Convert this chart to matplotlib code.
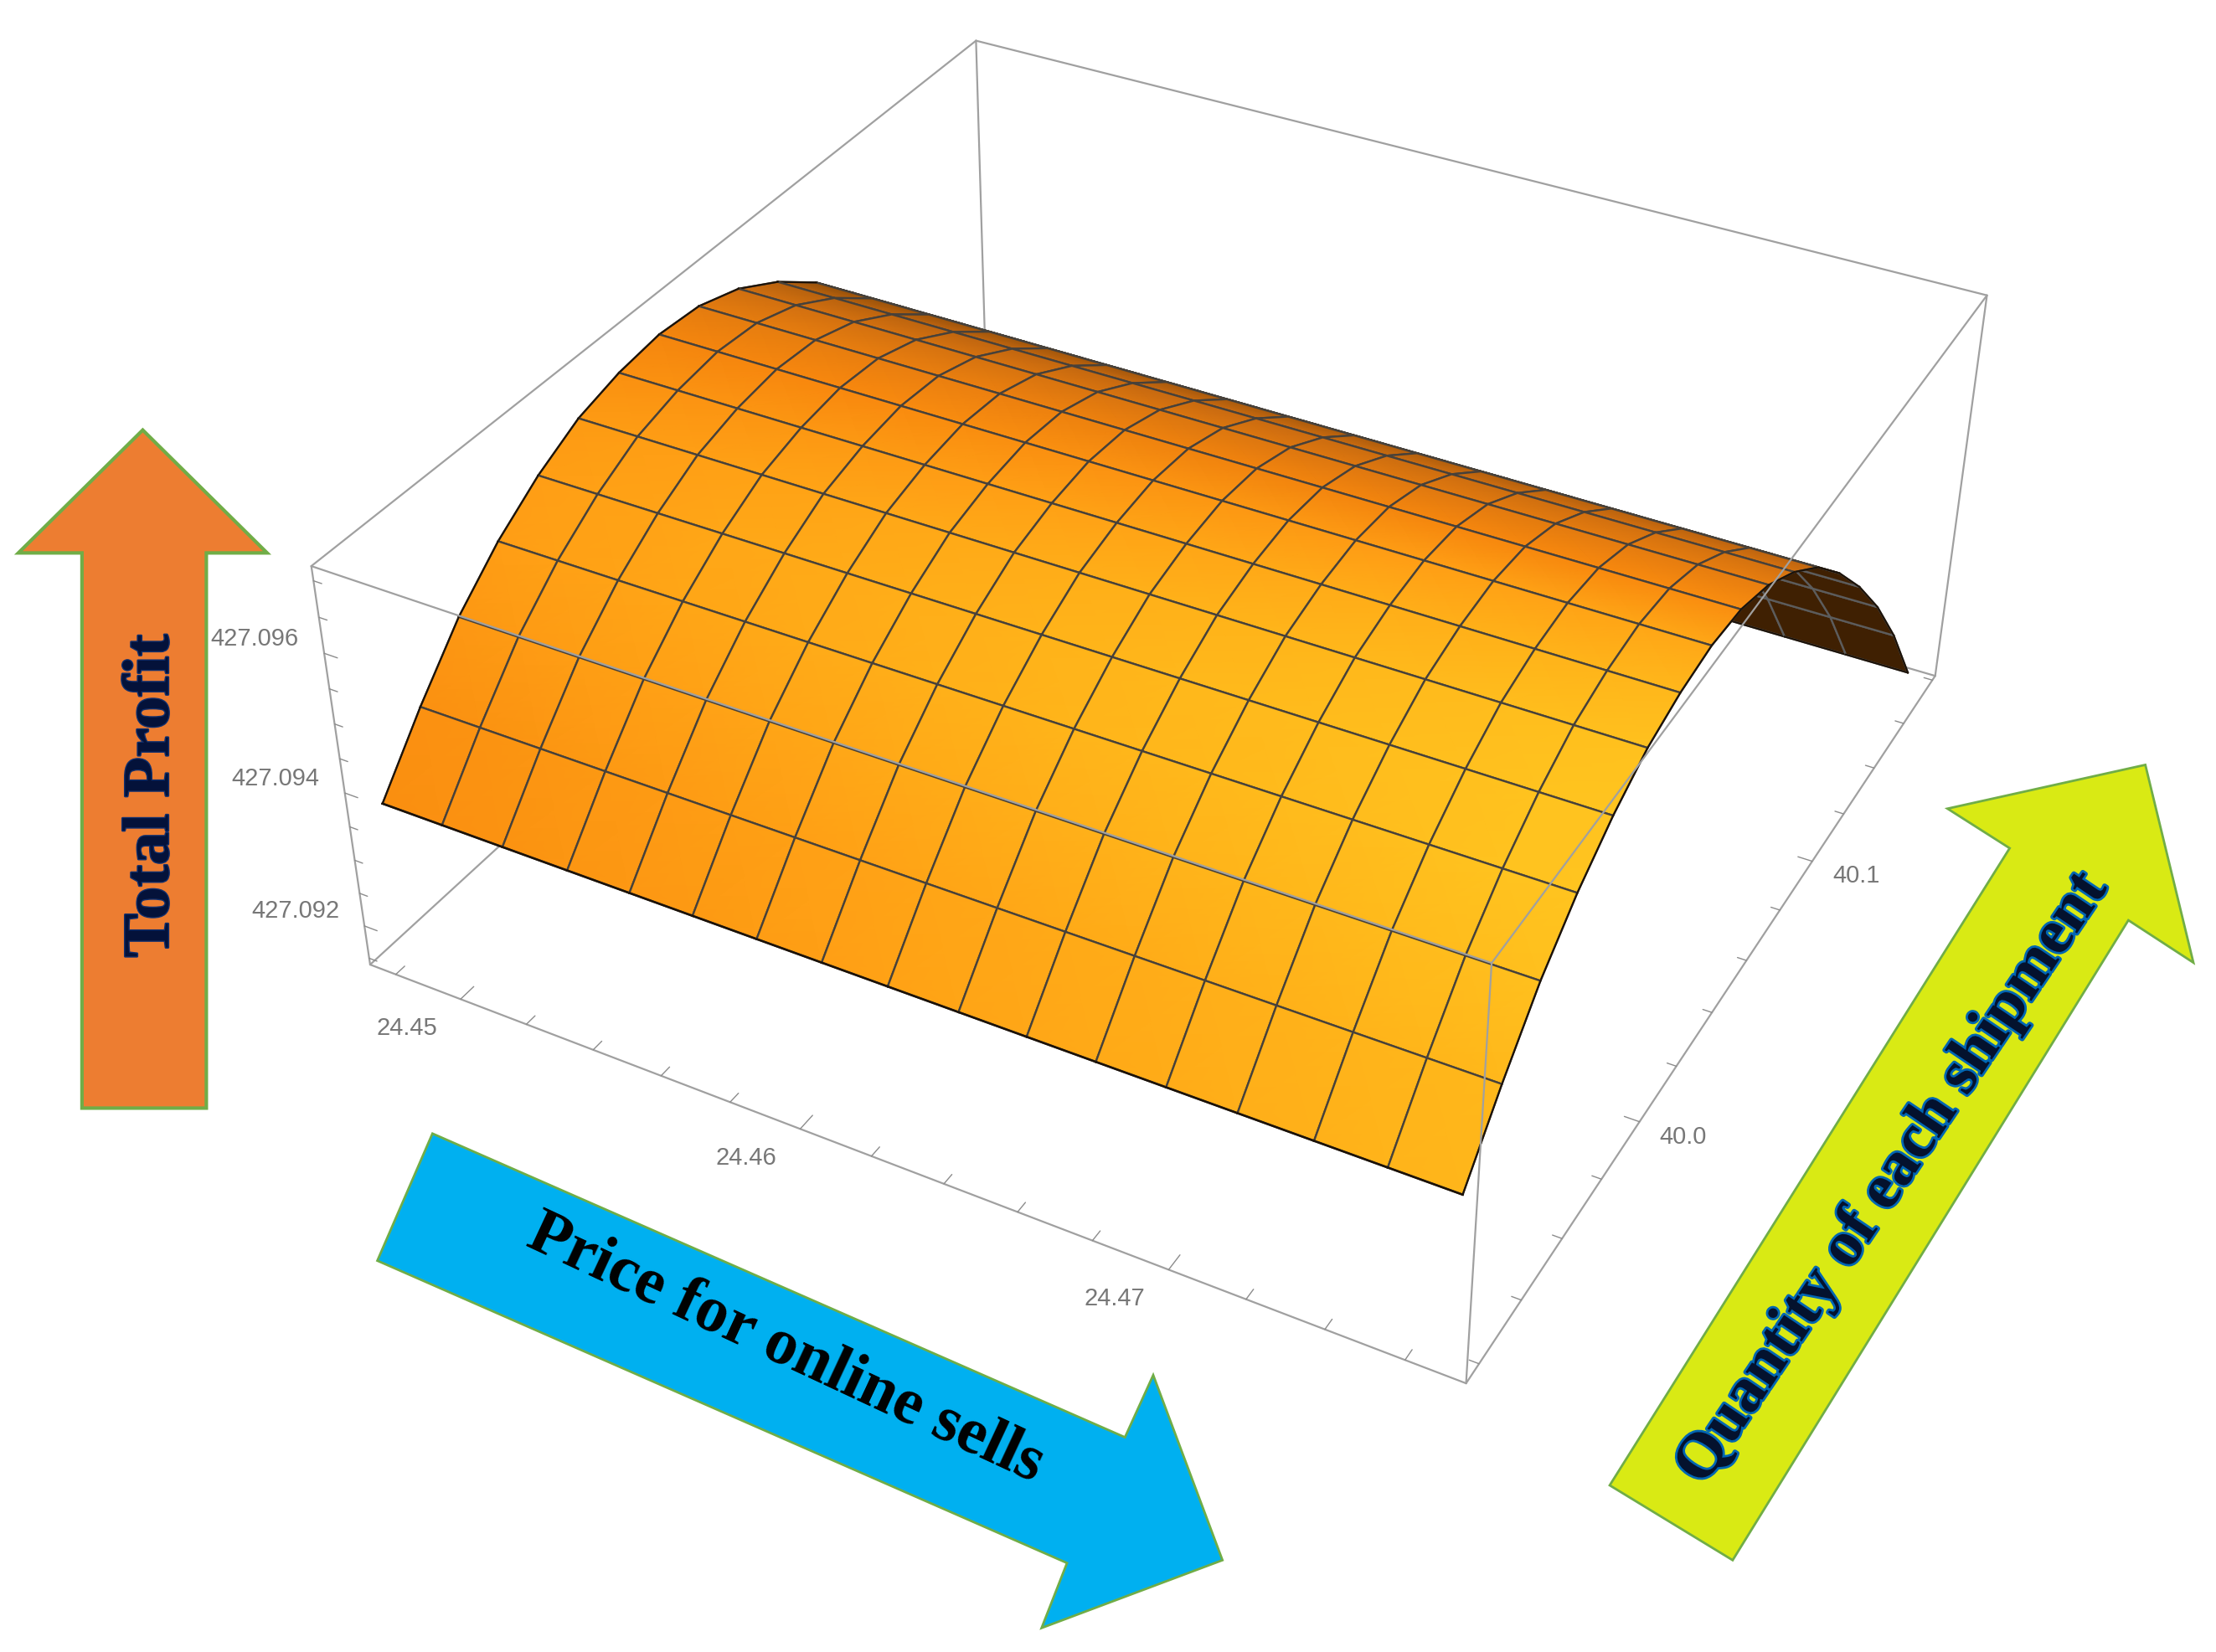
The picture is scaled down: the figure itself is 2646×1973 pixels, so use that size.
import numpy as np
import matplotlib
matplotlib.use("Agg")
import matplotlib.pyplot as plt
import matplotlib.patheffects as pe
from matplotlib.colors import LinearSegmentedColormap, Normalize
from matplotlib.patches import Polygon

# --- DATA ---
price_values = [24.4478, 24.4496, 24.4514, 24.4533, 24.4551, 24.4569, 24.4587, 24.4605, 24.4623,
                24.4642, 24.4660, 24.4678, 24.4696, 24.4714, 24.4733, 24.4751, 24.4769]
quantity_values = [39.9194, 39.9355, 39.9516, 39.9676, 39.9837, 39.9998, 40.0159, 40.0320, 40.0480,
                   40.0641, 40.0802, 40.0963, 40.1123, 40.1284, 40.1445, 40.1606, 40.1766]
profit_by_quantity = [427.09375, 427.09459, 427.09534, 427.09590, 427.09633, 427.09665, 427.09682, 427.09690,
                      427.09685, 427.09665, 427.09630, 427.09584, 427.09523, 427.09450, 427.09366, 427.09268,
                      427.09154]

price_ticks = [24.45, 24.46, 24.47]
quantity_ticks = [40.0, 40.1]
profit_ticks = [427.092, 427.094, 427.096]
price_range = (24.4472, 24.4775)
quantity_range = (39.914, 40.182)
profit_range = (427.0914, 427.0972)

# --- CAMERA: box corners in the 1568x1170 picture ---
unit_corners = [(0, 0, 0), (1, 0, 0), (0, 0, 1), (1, 0, 1), (1, 1, 1), (0, 1, 1), (1, 1, 0), (0, 1, 0)]
screen_corners = [(262, 682), (1038, 980), (220, 402), (1055, 683), (1405, 210), (692, 28), (1370, 478), (697, 285)]


def fit_camera():
    rows = []
    for (a, b, c), (u, v) in zip(unit_corners, screen_corners):
        rows.append([a, b, c, 1, 0, 0, 0, 0, -u * a, -u * b, -u * c, -u])
        rows.append([0, 0, 0, 0, a, b, c, 1, -v * a, -v * b, -v * c, -v])
    return np.linalg.svd(np.array(rows, float))[2][-1].reshape(3, 4)


CAM = fit_camera()


def to_unit(x, y, z):
    return ((np.asarray(x, float) - price_range[0]) / (price_range[1] - price_range[0]),
            (np.asarray(y, float) - quantity_range[0]) / (quantity_range[1] - quantity_range[0]),
            (np.asarray(z, float) - profit_range[0]) / (profit_range[1] - profit_range[0]))


def project(x, y, z):
    a, b, c = to_unit(x, y, z)
    w = CAM[2, 0] * a + CAM[2, 1] * b + CAM[2, 2] * c + CAM[2, 3]
    return ((CAM[0, 0] * a + CAM[0, 1] * b + CAM[0, 2] * c + CAM[0, 3]) / w,
            (CAM[1, 0] * a + CAM[1, 1] * b + CAM[1, 2] * c + CAM[1, 3]) / w)


fig = plt.figure(figsize=(26.46, 19.74), dpi=100)
ax = fig.add_axes([0, 0, 1, 1])
ax.set_xlim(0, 1568)
ax.set_ylim(1170, 0)
ax.axis("off")

BOX = "#a0a0a0"
xa, xb = price_range
ya, yb = quantity_range
za, zb = profit_range


def edge(p, q, zorder, color=BOX, lw=1.6):
    sx, sy = project([p[0], q[0]], [p[1], q[1]], [p[2], q[2]])
    ax.plot(sx, sy, color=color, lw=lw, zorder=zorder, solid_capstyle="round")


# back of the box, behind the surface
for p, q in [((xa, yb, za), (xb, yb, za)), ((xa, ya, za), (xa, yb, za)), ((xa, yb, za), (xa, yb, zb)),
             ((xa, yb, zb), (xb, yb, zb)), ((xb, yb, za), (xb, yb, zb)), ((xa, yb, zb), (xa, ya, zb))]:
    edge(p, q, 1)

# --- SURFACE ---
X, Y = np.meshgrid(price_values, quantity_values)
Z = np.tile(np.array(profit_by_quantity)[:, None], (1, len(price_values)))
SX, SY = project(X, Y, Z)

# light falls from the front and above; the far slope turns dark
ua, ub, uc = to_unit(X, Y, Z)
slope = np.gradient(uc, ub[:, 0], axis=0) * 0.42
angle = np.arctan(slope)
light = np.cos(angle - np.arctan(0.5))
shade = (light - 0.4) / 0.6 + 0.22 * (ua - 0.5)
shade_map = LinearSegmentedColormap.from_list(
    "shade", [(0.0, "#8a4a08"), (0.3, "#c86a10"), (0.7, "#f8880e"), (0.82, "#ffa015"), (0.92, "#ffb51a"),
              (1.0, "#ffc41f")])
shade_norm = Normalize(0, 1.1)

MESH = "#47413a"
RIM = "#1c1208"
last_i = len(price_values) - 2
last_j = len(quantity_values) - 2
zo = 2.0
for j in range(last_j, -1, -1):
    for i in range(last_i + 1):
        qx = np.array([SX[j, i], SX[j, i + 1], SX[j + 1, i + 1], SX[j + 1, i]])
        qy = np.array([SY[j, i], SY[j, i + 1], SY[j + 1, i + 1], SY[j + 1, i]])
        area = 0.5 * np.sum(qx * np.roll(qy, -1) - np.roll(qx, -1) * qy)
        zo += 0.001
        back = area > 0
        if back:
            ax.add_patch(Polygon(np.c_[qx, qy], closed=True, fc="#3f2002", ec="#3f2002", lw=0.5, zorder=zo))
        else:
            ax.pcolormesh(SX[j:j + 2, i:i + 2], SY[j:j + 2, i:i + 2], shade[j:j + 2, i:i + 2], shading="gouraud",
                          cmap=shade_map, norm=shade_norm, zorder=zo)
        zo += 0.001
        ax.plot(np.r_[qx, qx[0]], np.r_[qy, qy[0]], color="#5c5c5c" if back else MESH, lw=1.7, zorder=zo,
                solid_joinstyle="round")
        # rim of the surface, painted with its cell so that nearer cells hide it
        zo += 0.001
        if j == 0:
            ax.plot(qx[:2], qy[:2], color=RIM, lw=1.9, zorder=zo)
        if j == last_j:
            ax.plot(qx[2:], qy[2:], color=RIM, lw=1.5, zorder=zo)
        if i == 0:
            ax.plot(qx[[0, 3]], qy[[0, 3]], color=RIM, lw=1.5, zorder=zo)
        if i == last_i:
            ax.plot(qx[1:3], qy[1:3], color=RIM, lw=1.5, zorder=zo)

# front of the box, drawn over the surface
TOP = 50
for p, q in [((xa, ya, za), (xb, ya, za)), ((xb, ya, za), (xb, yb, za)), ((xa, ya, za), (xa, ya, zb)),
             ((xb, ya, za), (xb, ya, zb)), ((xa, ya, zb), (xb, ya, zb)), ((xb, ya, zb), (xb, yb, zb))]:
    edge(p, q, TOP)

# --- TICKS ---
TICK = "#8c8c8c"
dx = xb - xa
dy = yb - ya
for v in np.arange(24.448, 24.4775, 0.002):
    long = min(abs(v - t) for t in price_ticks) < 1e-6
    edge((v, ya, za), (v, ya + dy * (0.018 if long else 0.012), za), TOP, TICK, 1.0)
for v in np.arange(39.92, 40.182, 0.02):
    long = min(abs(v - t) for t in quantity_ticks) < 1e-6
    edge((xb, v, za), (xb - dx * (0.013 if long else 0.008), v, za), TOP, TICK, 1.0)
for v in np.arange(427.0915, 427.0972, 0.0005):
    long = min(abs(v - t) for t in profit_ticks) < 1e-6
    edge((xa, ya, v), (xa + dx * (0.013 if long else 0.008), ya, v), TOP, TICK, 1.0)

LABEL = dict(family="Liberation Sans", fontsize=21, color="#777777", ha="center", va="center", zorder=TOP)
for v in price_ticks:
    sx, sy = project(v, ya, za)
    ax.text(sx - 38, sy + 20, f"{v:.2f}", **LABEL)
for v in quantity_ticks:
    sx, sy = project(xb, v, za)
    ax.text(sx + 31, sy + 10, f"{v:.1f}", **LABEL)
for v in profit_ticks:
    sx, sy = project(xa, ya, v)
    ax.text(sx - 49, sy - 11, f"{v:.3f}", **LABEL)

# --- ANNOTATION ARROWS ---
GREEN = "#70ad47"
ax.add_patch(Polygon([(101, 305), (13, 392), (58, 392), (58, 785), (146, 785), (146, 392), (189, 392)],
                     closed=True, fc="#ed7d31", ec=GREEN, lw=3.0, zorder=60, joinstyle="miter"))
ax.add_patch(Polygon([(306, 803), (267, 893), (755, 1107), (737, 1153), (865, 1105), (816, 974), (796, 1018)],
                     closed=True, fc="#00b0f0", ec=GREEN, lw=2.0, zorder=60, joinstyle="miter"))
ax.add_patch(Polygon([(1139, 1052), (1226, 1105), (1506, 652), (1552, 682), (1518, 542), (1378, 573), (1422, 601)],
                     closed=True, fc="#d9ea14", ec=GREEN, lw=2.0, zorder=60, joinstyle="miter"))

SERIF = dict(family="Liberation Serif", weight="bold", ha="center", va="center", rotation_mode="anchor", zorder=61)
ax.text(108, 564, "Total Profit", rotation=90, fontsize=56.5, color="#04123a",
        path_effects=[pe.withStroke(linewidth=2, foreground="#12306e")], **SERIF)
ax.text(556, 955, "Price for online sells", rotation=-25, fontsize=56, color="#000000", **SERIF)
ax.text(1339, 835, "Quantity of each shipment", rotation=56, fontsize=55, color="#04122e",
        path_effects=[pe.withStroke(linewidth=4, foreground="#0066b3")], **SERIF)

fig.savefig("out.png", dpi=100, facecolor="white")
